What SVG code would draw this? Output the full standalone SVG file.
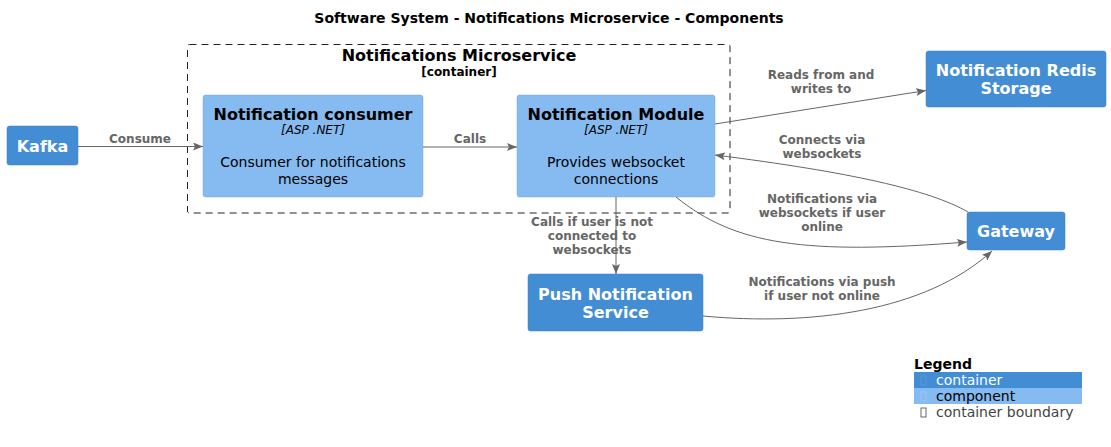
<svg xmlns="http://www.w3.org/2000/svg" width="1111" height="447" viewBox="0 0 1111 447">
<defs>
<style>
text{font-family:"DejaVu Sans","Liberation Sans",sans-serif}
.container{fill:#438DD5;stroke:#3C7FC0;stroke-width:0.5}
.component{fill:#85BBF0;stroke:#78A8D8;stroke-width:0.5}
.cname{font-size:16px;font-weight:bold;fill:#FFFFFF;text-anchor:middle}
.kname{font-size:16px;font-weight:bold;fill:#000000;text-anchor:middle}
.tech{font-size:12px;font-style:italic;fill:#000000;text-anchor:middle}
.desc{font-size:14px;fill:#000000;text-anchor:middle}
.lbl{font-size:12px;font-weight:bold;fill:#666666;text-anchor:middle}
.edge{fill:none;stroke:#666666;stroke-width:1}
</style>
<marker id="arr" viewBox="0 0 10 8" refX="10" refY="4" markerWidth="10" markerHeight="8" markerUnits="userSpaceOnUse" orient="auto">
<path d="M0,0 L10,4 L0,8 L2,4 Z" fill="#666666"/>
</marker>
</defs>
<rect width="1111" height="447" fill="#FFFFFF"/>
<text x="549" y="23" font-size="14" font-weight="bold" text-anchor="middle" fill="#000000">Software System - Notifications Microservice - Components</text>

<g id="boundary">
<rect x="187.5" y="44.5" width="542.5" height="168.5" rx="2" fill="none" stroke="#222222" stroke-width="1" stroke-dasharray="7,5"/>
<text x="459" y="61" font-size="16" font-weight="bold" text-anchor="middle" fill="#000000">Notifications Microservice</text>
<text x="459" y="76" font-size="12" font-weight="bold" text-anchor="middle" fill="#000000">[container]</text>
</g>

<g id="kafka">
<rect class="container" x="7" y="126" width="71" height="39" rx="2.5"/>
<text class="cname" x="42.5" y="152">Kafka</text>
</g>

<g id="notification-consumer">
<rect class="component" x="203" y="95" width="220" height="102" rx="2.5"/>
<text class="kname" x="313" y="120">Notification consumer</text>
<text class="tech" x="313" y="134">[ASP .NET]</text>
<text class="desc" x="313" y="167">Consumer for notifications</text>
<text class="desc" x="313" y="184">messages</text>
</g>

<g id="notification-module">
<rect class="component" x="517" y="95" width="198" height="102" rx="2.5"/>
<text class="kname" x="616" y="120">Notification Module</text>
<text class="tech" x="616" y="134">[ASP .NET]</text>
<text class="desc" x="616" y="167">Provides websocket</text>
<text class="desc" x="616" y="184">connections</text>
</g>

<g id="redis">
<rect class="container" x="926" y="51" width="180" height="56" rx="2.5"/>
<text class="cname" x="1016" y="76">Notification Redis</text>
<text class="cname" x="1016" y="94">Storage</text>
</g>

<g id="gateway">
<rect class="container" x="967" y="212" width="98" height="38" rx="2.5"/>
<text class="cname" x="1016" y="237">Gateway</text>
</g>

<g id="push-service">
<rect class="container" x="528" y="274" width="175" height="57" rx="2.5"/>
<text class="cname" x="615.5" y="300">Push Notification</text>
<text class="cname" x="615.5" y="318">Service</text>
</g>

<g id="connectors">
<path class="edge" d="M78,146.5 L203,146.5" marker-end="url(#arr)"/>
<text class="lbl" x="140" y="143">Consume</text>
<path class="edge" d="M423,147 L517,147" marker-end="url(#arr)"/>
<text class="lbl" x="470" y="143">Calls</text>
<path class="edge" d="M715,124 L926,90.5" marker-end="url(#arr)"/>
<text class="lbl" x="821" y="79">Reads from and</text>
<text class="lbl" x="821" y="93">writes to</text>
<path class="edge" d="M968,212 C930,190 850,172 715,155" marker-end="url(#arr)"/>
<text class="lbl" x="822" y="144">Connects via</text>
<text class="lbl" x="822" y="158">websockets</text>
<path class="edge" d="M676,197 C735,245 805,255 967,242" marker-end="url(#arr)"/>
<text class="lbl" x="822" y="203">Notifications via</text>
<text class="lbl" x="822" y="217">websockets if user</text>
<text class="lbl" x="822" y="231">online</text>
<path class="edge" d="M616,197 L616,274" marker-end="url(#arr)"/>
<text class="lbl" x="592" y="226">Calls if user is not</text>
<text class="lbl" x="592" y="240">connected to</text>
<text class="lbl" x="592" y="254">websockets</text>
<path class="edge" d="M703,316 C810,326 925,312 992,251" marker-end="url(#arr)"/>
<text class="lbl" x="822" y="286">Notifications via push</text>
<text class="lbl" x="822" y="300">if user not online</text>
</g>

<g id="legend">
<text x="914" y="369" font-size="14" font-weight="bold" fill="#000000">Legend</text>
<rect x="914" y="372" width="168" height="16" fill="#438DD5"/>
<rect x="921" y="376" width="5" height="9" fill="none" stroke="#5A9BDB" stroke-width="0.8"/>
<text x="936" y="385" font-size="14" fill="#FFFFFF">container</text>
<rect x="914" y="388" width="168" height="16" fill="#85BBF0"/>
<rect x="921" y="392" width="5" height="9" fill="none" stroke="#9CC8F2" stroke-width="0.8"/>
<text x="936" y="401" font-size="14" fill="#000000">component</text>
<rect x="921" y="408" width="5" height="9" fill="none" stroke="#444444" stroke-width="0.8"/>
<text x="936" y="417" font-size="14" fill="#444444">container boundary</text>
</g>
</svg>
